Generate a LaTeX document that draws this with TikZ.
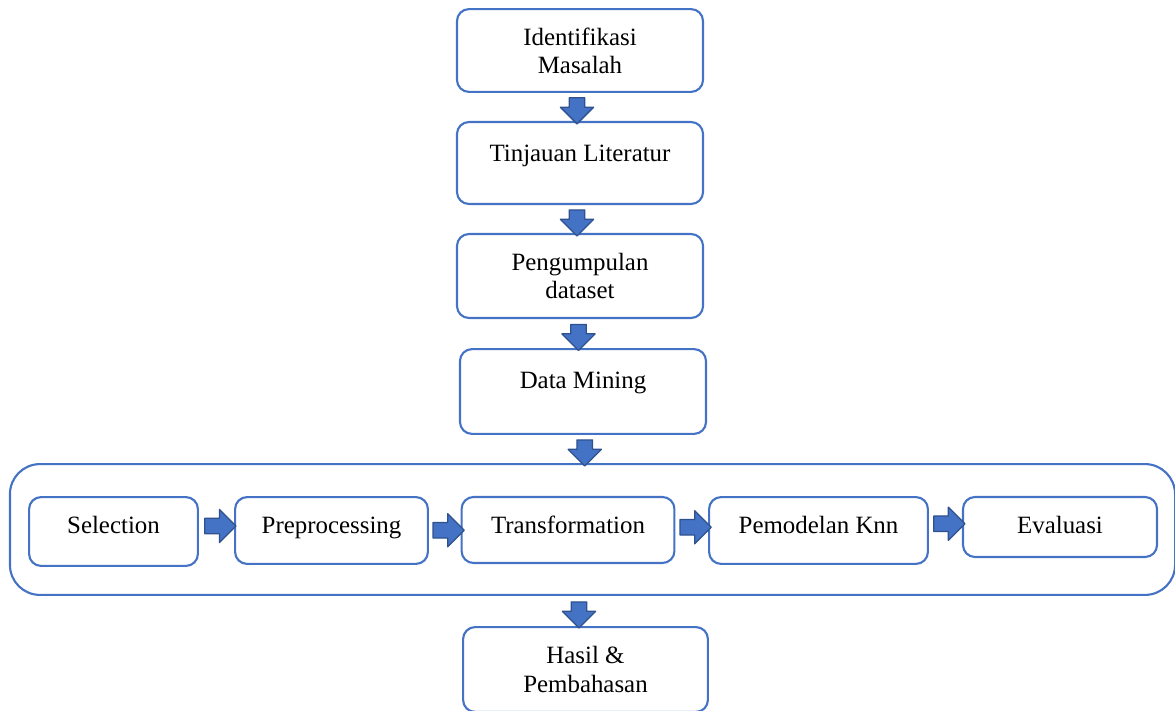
\documentclass[tikz,border=0pt]{standalone}
\usepackage{fontspec}
\setmainfont{Liberation Serif}
\usetikzlibrary{shapes.arrows,calc}
\definecolor{boxblue}{RGB}{68,114,196}
\definecolor{arrowedge}{RGB}{47,82,143}
\begin{document}
\begin{tikzpicture}[x=0.025cm, y=-0.025cm, font=\fontsize{17.7}{20}\selectfont, line join=round,
  box/.style={draw=boxblue, line width=1.5pt, rounded corners=0.3cm, align=center, inner sep=0pt},
  topbox/.style={box, text height=0.45cm, text depth=#1},
  blockarr/.style={single arrow, draw=arrowedge, fill=boxblue, line width=0.9pt, inner xsep=0pt,
    inner ysep=0.18cm, single arrow head extend=0.22cm, single arrow tip angle=90},
  darr/.style={blockarr, rotate=-90, minimum height=0.65cm},
  rarr/.style={blockarr, minimum height=0.78cm}]
\useasboundingbox (0,0) rectangle (1175,710);
% main flow
\node[box, minimum width=6.15cm, minimum height=2.07cm] (idm) at (580,50.5) {Identifikasi\\Masalah};
\node[topbox=0.55cm, minimum width=6.15cm, minimum height=2.05cm] (tl) at (580,163) {Tinjauan Literatur};
\node[box, minimum width=6.15cm, minimum height=2.1cm] (pd) at (580,276) {Pengumpulan\\dataset};
\node[topbox=0.62cm, minimum width=6.15cm, minimum height=2.12cm] (dm) at (583,391.5) {Data Mining};
% data mining steps
\node[box, rounded corners=0.75cm, minimum width=29.12cm, minimum height=3.27cm] (dmbox) at (592.5,529.5) {};
\node[topbox=0.375cm, minimum width=4.22cm, minimum height=1.72cm] (sel) at (113.5,531.5) {Selection};
\node[topbox=0.325cm, minimum width=4.82cm, minimum height=1.67cm] (pre) at (331.5,530.5) {Preprocessing};
\node[topbox=0.3cm, minimum width=5.32cm, minimum height=1.65cm] (tra) at (568,530) {Transformation};
\node[topbox=0.325cm, minimum width=5.47cm, minimum height=1.67cm] (pem) at (818.5,530.5) {Pemodelan Knn};
\node[topbox=0.15cm, minimum width=4.85cm, minimum height=1.5cm] (eva) at (1060,527) {Evaluasi};
\node[box, minimum width=6.12cm, minimum height=2.12cm] (hp) at (585.5,669.5) {Hasil \&\\Pembahasan};
% arrows
\foreach \a/\b in {idm/tl,tl/pd,pd/dm,dm/dmbox}
  \node[darr] at ($(\a.south)!.5!(\b.north)+(-3,0)$) {};
\node[darr] at ($(dmbox.south)!.5!(hp.north)+(-10,0)$) {};
\foreach \a/\b/\s in {sel/pre/-5,pre/tra/0,tra/pem/-3,pem/eva/-5}
  \node[rarr] at ($(\a.east)!.5!(\b.west)+(0,\s)$) {};
\end{tikzpicture}
\end{document}
